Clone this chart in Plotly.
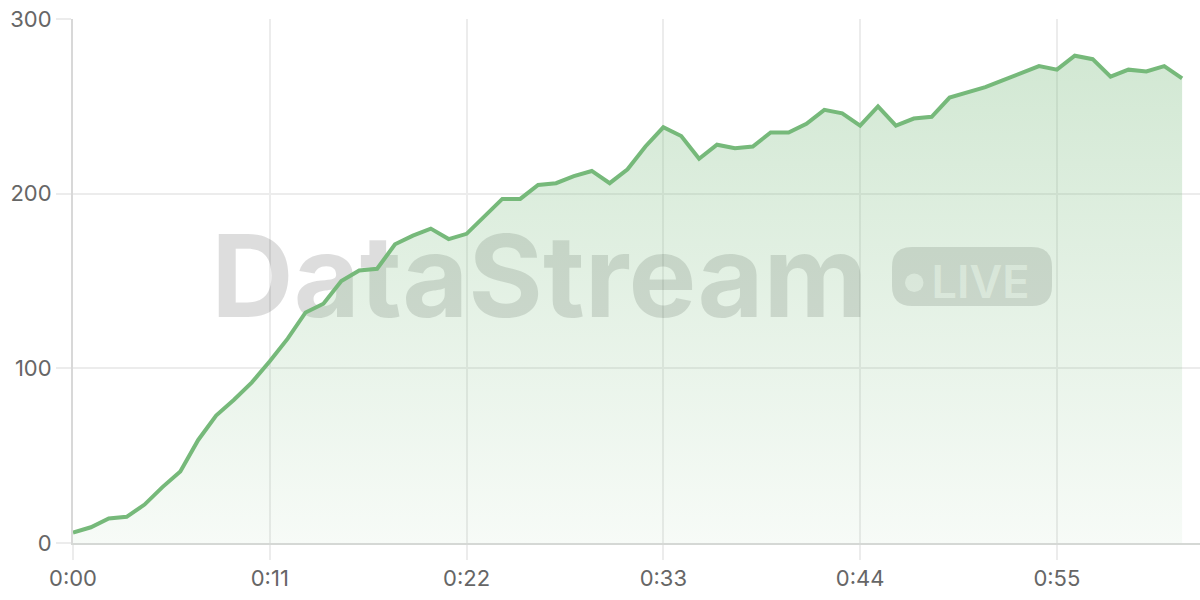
import plotly.graph_objects as go

# ---- data ----
seconds = list(range(63))
values = [6, 9, 14, 15, 22, 32, 41, 59, 73, 82, 92, 104, 117, 132, 137, 150, 156, 157,
          171, 176, 180, 174, 177, 187, 197, 197, 205, 206, 210, 213, 206, 214, 227, 238,
          233, 220, 228, 226, 227, 235, 235, 240, 248, 246, 239, 250, 239, 243, 244, 255,
          258, 261, 265, 269, 273, 271, 279, 277, 267, 271, 270, 273, 266]
x_tick_vals = [0, 11, 22, 33, 44, 55]
x_tick_text = ["0:00", "0:11", "0:22", "0:33", "0:44", "0:55"]
y_tick_vals = [0, 100, 200, 300]

# ---- layout geometry (pixels) ----
W, H = 1200, 600
ML, MR, MT, MB = 73, 0, 19, 57
X_RANGE = [0, 63]
Y_RANGE = [0, 300]
pw = W - ML - MR
ph = H - MT - MB


def dx(px):
    return X_RANGE[0] + (px - ML) / pw * (X_RANGE[1] - X_RANGE[0])


def dy(py):
    return Y_RANGE[0] + (H - MB - py) / ph * (Y_RANGE[1] - Y_RANGE[0])


GREEN = "#76b97a"
FONT = "Inter, 'Helvetica Neue', Arial, sans-serif"

fig = go.Figure()
fig.add_trace(go.Scatter(
    x=seconds, y=values, mode="lines",
    line=dict(color=GREEN, width=4),
    fill="tozeroy",
    fillgradient=dict(type="vertical",
                      colorscale=[[0, "rgba(118,185,122,0.06)"], [1, "rgba(118,185,122,0.33)"]]),
    hoverinfo="skip", showlegend=False,
))

shapes = []
# watermark text
shapes.append(dict(
    type="rect", xref="x", yref="y", layer="between",
    x0=dx(212), x1=dx(867), y0=dy(312), y1=dy(230),
    line=dict(width=0), fillcolor="rgba(0,0,0,0)",
    label=dict(text="DataStream", textposition="middle center",
               font=dict(family=FONT, size=114, color="rgba(0,0,0,0.135)", weight=700)),
))
# LIVE badge (rounded rect)
bx0, bx1, by0, by1, r = 892, 1052, 247, 306, 20
path = (f"M {dx(bx0 + r)},{dy(by0)} L {dx(bx1 - r)},{dy(by0)} "
        f"Q {dx(bx1)},{dy(by0)} {dx(bx1)},{dy(by0 + r)} L {dx(bx1)},{dy(by1 - r)} "
        f"Q {dx(bx1)},{dy(by1)} {dx(bx1 - r)},{dy(by1)} L {dx(bx0 + r)},{dy(by1)} "
        f"Q {dx(bx0)},{dy(by1)} {dx(bx0)},{dy(by1 - r)} L {dx(bx0)},{dy(by0 + r)} "
        f"Q {dx(bx0)},{dy(by0)} {dx(bx0 + r)},{dy(by0)} Z")
shapes.append(dict(type="path", xref="x", yref="y", layer="between", path=path,
                   line=dict(width=0), fillcolor="rgba(0,0,0,0.135)"))
shapes.append(dict(type="circle", xref="x", yref="y", layer="between",
                   x0=dx(905), x1=dx(923.5), y0=dy(292), y1=dy(273.5),
                   line=dict(width=0), fillcolor="rgba(255,255,255,0.65)"))
shapes.append(dict(
    type="rect", xref="x", yref="y", layer="between",
    x0=dx(930), x1=dx(1031), y0=dy(297), y1=dy(264),
    line=dict(width=0), fillcolor="rgba(0,0,0,0)",
    label=dict(text="LIVE", textposition="middle center",
               font=dict(family=FONT, size=45, color="rgba(255,255,255,0.65)", weight=600)),
))

fig.update_layout(
    width=W, height=H,
    margin=dict(l=ML, r=MR, t=MT, b=MB, pad=0, autoexpand=False),
    paper_bgcolor="white", plot_bgcolor="white",
    font=dict(family=FONT, size=22, color="#666666"),
    shapes=shapes,
    xaxis=dict(range=X_RANGE, tickvals=x_tick_vals, ticktext=x_tick_text,
               showgrid=True, gridcolor="#ececec", gridwidth=2,
               ticks="outside", ticklen=15, tickwidth=2, tickcolor="#ececec",
               showline=True, linecolor="#d5d8d5", linewidth=2,
               zeroline=False, fixedrange=True, automargin=False),
    yaxis=dict(range=Y_RANGE, tickvals=y_tick_vals,
               showgrid=True, gridcolor="#ececec", gridwidth=2,
               ticks="outside", ticklen=15, tickwidth=2, tickcolor="#ececec",
               showline=True, linecolor="#d8d8d8", linewidth=2,
               zeroline=False, fixedrange=True, automargin=False),
)

fig.write_html("out.html", config={"displayModeBar": False},
               post_script="document.body.style.margin='0';document.body.style.overflow='hidden';")
